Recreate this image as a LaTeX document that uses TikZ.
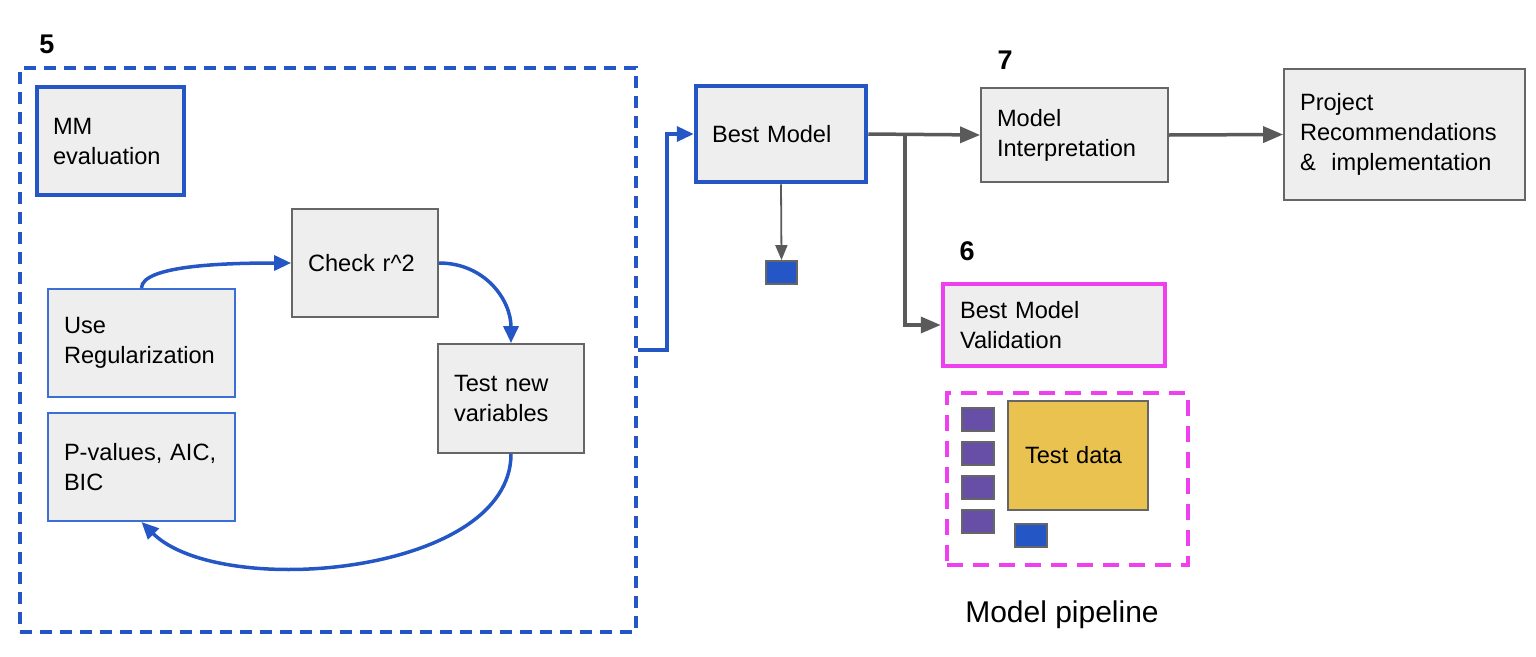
\documentclass[tikz,border=0pt]{standalone}
\usepackage{fontspec}
\setmainfont{Liberation Sans}
\usetikzlibrary{arrows.meta}
\definecolor{myblue}{HTML}{2457C5}
\definecolor{lblue}{HTML}{3C6FD6}
\definecolor{boxfill}{HTML}{EEEEEE}
\definecolor{boxgray}{HTML}{666666}
\definecolor{congray}{HTML}{5A5A5A}
\definecolor{mymag}{HTML}{EE40EE}
\definecolor{mypurple}{HTML}{674EA7}
\definecolor{mygold}{HTML}{E9C24F}
\newcommand{\boxfont}{\fontsize{23.6}{30}\selectfont}
\tikzset{
  box/.style={draw=boxgray, fill=boxfill, line width=1.8pt, inner xsep=16pt, inner ysep=0pt, align=left, font=\boxfont},
  thickblue/.style={box, draw=myblue, line width=4.5pt},
  thinblue/.style={box, draw=lblue, line width=2pt},
  magbox/.style={box, draw=mymag, line width=4.5pt},
  tiny/.style={draw=boxgray, line width=1.8pt, minimum width=#1, minimum height=23pt, inner sep=0pt},
  steplabel/.style={font=\fontsize{27}{30}\selectfont\bfseries, inner sep=0pt},
  bluearrow/.style={draw=myblue, line width=3.5pt, -{Triangle[length=17pt,width=15pt]}},
  grayarrow/.style={draw=congray, line width=3.5pt, -{Triangle[length=20pt,width=16pt]}},
  thinarrow/.style={draw=congray, line width=1.8pt, -{Triangle[length=15pt,width=12pt]}},
}
\begin{document}
\begin{tikzpicture}[x=1pt,y=-1pt]
\useasboundingbox (0,0) rectangle (1536,656);
% step labels
\node[steplabel] (l5) at (47,44) {5};
\node[steplabel] (l7) at (1005,60) {7};
\node[steplabel] (l6) at (967,251) {6};
% dashed containers
\node[draw=myblue, line width=3.5pt, dash pattern=on 12pt off 8pt, minimum width=616pt, minimum height=564pt, inner sep=0pt] (d5) at (328,350) {};
\node[draw=mymag, line width=4.5pt, dash pattern=on 16pt off 10pt, minimum width=241pt, minimum height=172pt, inner sep=0pt] (dm) at (1067.5,479) {};
% boxes in step 5
\node[thickblue, text width=115pt, minimum height=108pt] (mm) at (110.5,141) {MM\\evaluation};
\node[box, text width=114pt, minimum height=108pt] (cr) at (365,263) {Check r\^{}2};
\node[thinblue, text width=155pt, minimum height=108pt] (ur) at (141.5,343) {Use\\Regularization};
\node[thinblue, text width=155pt, minimum height=108pt] (pv) at (141.5,467) {P-values, AIC,\\BIC};
\node[box, text width=114pt, minimum height=109pt] (tn) at (511,398.5) {Test new\\variables};
% right part
\node[thickblue, text width=138pt, minimum height=96pt] (bm) at (781,134) {Best Model};
\node[box, text width=155pt, minimum height=94pt] (mi) at (1074.5,135) {Model\\Interpretation};
\node[box, text width=209pt, minimum height=131pt] (pr) at (1404.5,134.5) {Project\\Recommendations\\\&\ \ implementation};
\node[magbox, text width=188pt, minimum height=82pt, inner xsep=17pt] (bmv) at (1054,325) {Best Model\\Validation};
\node[tiny=31pt, fill=myblue] (sq) at (781.5,272.5) {};
% model pipeline
\node[box, fill=mygold, text width=106pt, minimum height=109pt, inner xsep=17pt] (td) at (1078,455.5) {Test data};
\node[tiny=32pt, fill=mypurple] (p1) at (978,419.5) {};
\node[tiny=32pt, fill=mypurple] (p2) at (978,453.5) {};
\node[tiny=32pt, fill=mypurple] (p3) at (978,487.5) {};
\node[tiny=32pt, fill=mypurple] (p4) at (978,521.5) {};
\node[tiny=32pt, fill=myblue] (bs) at (1031,535.5) {};
\node[font=\fontsize{30}{34}\selectfont, inner sep=0pt] (mp) at (1062,615) {Model pipeline};
% connectors in step 5
\draw[bluearrow] (ur.north) .. controls (142,266) and (220,263) .. (cr.west);
\draw[bluearrow] (cr.east) .. controls (485,263) and (511,300) .. (tn.north);
\draw[bluearrow] (tn.south) .. controls (511,575) and (220,600) .. (pv.south);
% step 5 to best model
\draw[bluearrow] (d5.east) -- ++(29,0) |- (bm.west);
% best model outputs
\coordinate (jn) at (905,134);
\draw[grayarrow] (bm.east) -- (mi.west);
\draw[grayarrow] (jn) |- (bmv.west);
\draw[thinarrow] (bm.south) -- (sq.north);
\draw[grayarrow] (mi.east) -- (pr.west);
\end{tikzpicture}
\end{document}
